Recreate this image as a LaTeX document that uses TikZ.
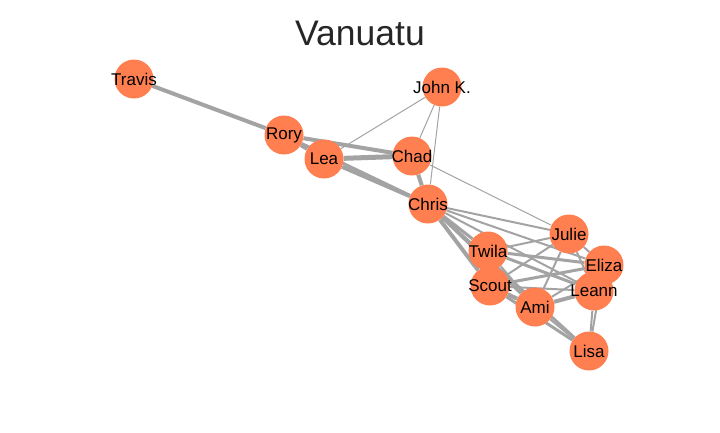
\documentclass[tikz,border=0pt]{standalone}
\usepackage{fontspec}
\setmainfont{Liberation Sans}
\usepackage{tikz}
\usetikzlibrary{backgrounds}
\definecolor{coral}{RGB}{255,127,80}
\definecolor{edgegray}{RGB}{163,163,163}
\tikzset{
 p/.style
  = {circle, fill=coral, minimum size=39pt, inner sep=-15pt,
     font=\fontsize{17}{18}\selectfont, text=black},
 e/.style
  = {draw=edgegray, line width=1pt},
 ee/.style
  = {draw=edgegray, line width=2pt},
 eee/.style
  = {draw=edgegray, line width=3pt},
 eeee/.style
  = {draw=edgegray, line width=4pt},
}

\begin{document}
\begin{tikzpicture}[x=1pt,y=-1pt]
\useasboundingbox (0,0) rectangle (720,432);

% Title
\node[text=black!85] (title) at (360,33) {\fontsize{35.5}{40}\selectfont Vanuatu};

% People
\node[p] (travis) at (134,79) {Travis};
\node[p] (rory) at (284,135) {Rory};
\node[p] (lea) at (324,159) {Lea};
\node[p] (johnk) at (442,87) {John K.};
\node[p] (chad) at (412,156) {Chad};
\node[p] (chris) at (428,204) {Chris};
\node[p] (julie) at (569,234) {Julie};
\node[p] (twila) at (488,251) {Twila};
\node[p] (eliza) at (604,265) {Eliza};
\node[p] (scout) at (490,286) {Scout};
\node[p] (leann) at (594,291) {Leann};
\node[p] (ami) at (535,307) {Ami};
\node[p] (lisa) at (589,351) {Lisa};

% Ties
\begin{scope}[on background layer]
\foreach \a/\b in {lea/johnk, johnk/chad, johnk/chris, chad/julie}
  \draw[e] (\a) -- (\b);
\foreach \a/\b in {chris/julie, chris/eliza, chris/leann, twila/julie,
                   twila/ami, scout/julie, scout/leann, ami/julie, ami/eliza,
                   ami/lisa, julie/eliza, julie/leann, leann/lisa, eliza/lisa}
  \draw[ee] (\a) -- (\b);
\foreach \a/\b in {rory/chris, chris/twila, chris/ami, chris/lisa,
                   twila/eliza, twila/leann, scout/eliza, scout/lisa,
                   eliza/leann}
  \draw[eee] (\a) -- (\b);
\foreach \a/\b in {travis/rory, rory/lea, rory/chad, lea/chris, chad/chris,
                   chris/scout, twila/scout, scout/ami, ami/leann}
  \draw[eeee] (\a) -- (\b);
\draw[draw=edgegray, line width=5pt] (lea) -- (chad);
\end{scope}

\end{tikzpicture}
\end{document}
